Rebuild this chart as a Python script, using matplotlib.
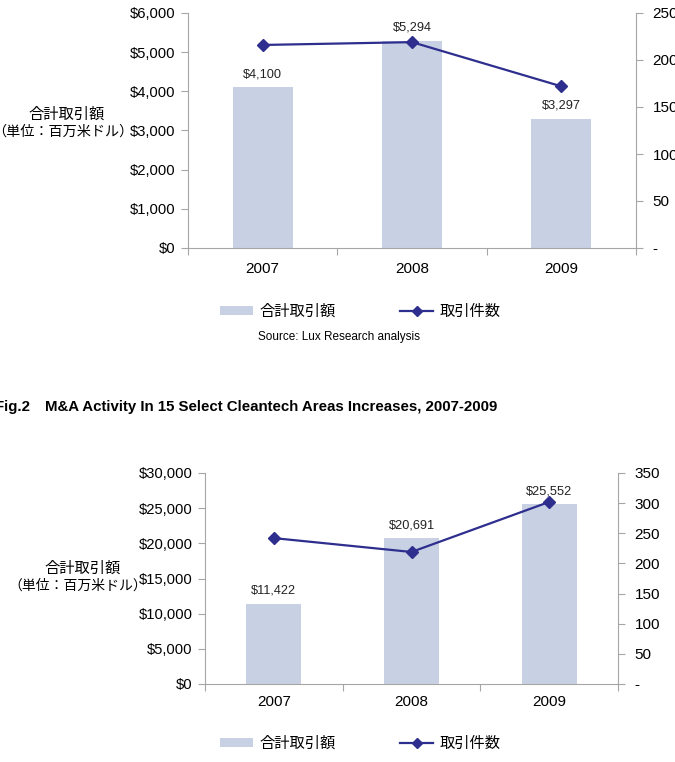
import matplotlib
matplotlib.use("Agg")
import matplotlib.pyplot as plt
from matplotlib.ticker import FuncFormatter, FixedLocator
from matplotlib.patches import Patch
from matplotlib.lines import Line2D

plt.rcParams['font.family'] = ['Liberation Sans', 'Noto Sans CJK JP', 'DejaVu Sans']

# Datos
anios = ["2007", "2008", "2009"]
monto_vc = [4100, 5294, 3297]          # 合計取引額 (figura superior)
cantidad_vc = [216, 219, 172]          # 取引件数
monto_ma = [11422, 20691, 25552]       # 合計取引額 (Fig.2)
cantidad_ma = [242, 219, 302]          # 取引件数

color_barra = "#c8d1e4"
color_linea = "#2e2e8e"
color_eje = "#a6a6a6"
ancho, alto = 675, 762


def fx(px):
    return px / ancho


def fy(py):
    return 1 - py / alto


def dibujar(fig, caja, montos, cantidades, ymax, ypaso, y2max, y2paso, pad_x):
    izq, der, arr, aba = caja
    ax = fig.add_axes([fx(izq), fy(aba), fx(der - izq), (aba - arr) / alto])
    x = list(range(len(anios)))
    ax.bar(x, montos, width=0.4, color=color_barra, zorder=2)
    for xi, v in zip(x, montos):
        ax.annotate(f"${v:,}", (xi, v), xytext=(0, 5), textcoords="offset points",
                    ha="center", va="bottom", fontsize=9.2, color="#222222")
    ax.set_xlim(-0.5, 2.5)
    ax.set_ylim(0, ymax)
    ax.set_yticks(range(0, ymax + 1, ypaso))
    ax.yaxis.set_major_formatter(FuncFormatter(lambda v, p: f"${int(v):,}"))
    ax.xaxis.set_major_locator(FixedLocator([-0.5, 0.5, 1.5, 2.5]))
    ax.xaxis.set_major_formatter(FuncFormatter(lambda v, p: ""))
    ax.xaxis.set_minor_locator(FixedLocator(x))
    ax.set_xticklabels(anios, minor=True)
    ax.tick_params(axis="x", which="minor", length=0, pad=pad_x, labelsize=11)
    ax.tick_params(axis="x", which="major", length=5, color=color_eje, direction="out")
    ax.tick_params(axis="y", length=5, color=color_eje, labelsize=10.6, pad=4)
    for s in ["top", "right"]:
        ax.spines[s].set_visible(False)
    for s in ["left", "bottom"]:
        ax.spines[s].set_color(color_eje)

    ax2 = ax.twinx()
    ax2.plot(x, cantidades, color=color_linea, lw=1.6, marker="D", markersize=6.5, zorder=3)
    ax2.set_ylim(0, y2max)
    ax2.set_yticks(range(0, y2max + 1, y2paso))
    ax2.yaxis.set_major_formatter(FuncFormatter(lambda v, p: "-" if v == 0 else f"{int(v)}"))
    ax2.tick_params(axis="y", length=5, color=color_eje, labelsize=11, pad=7)
    for s in ["top", "left", "bottom"]:
        ax2.spines[s].set_visible(False)
    ax2.spines["right"].set_color(color_eje)
    return ax


fig = plt.figure(figsize=(6.75, 7.62), dpi=100)

dibujar(fig, (188, 636, 13, 248), monto_vc, cantidad_vc, 6000, 1000, 250, 50, 10)
dibujar(fig, (205, 618, 473, 684), monto_ma, cantidad_ma, 30000, 5000, 350, 50, 8)

# Etiquetas del eje Y
fig.text(fx(67), fy(115), "合計取引額", ha="center", va="center", fontsize=11)
fig.text(fx(63), fy(132), "（単位：百万米ドル）", ha="center", va="center", fontsize=10.2)
fig.text(fx(83), fy(569), "合計取引額", ha="center", va="center", fontsize=11)
fig.text(fx(78), fy(586), "（単位：百万米ドル）", ha="center", va="center", fontsize=10)

# Leyendas
manejadores = [Patch(facecolor=color_barra, edgecolor="none"),
               Line2D([], [], color=color_linea, lw=1.6, marker="D", markersize=5)]
nombres = ["合計取引額", "取引件数"]
for cy in (312, 744):
    fig.legend(manejadores, nombres, loc="center", bbox_to_anchor=(fx(360), fy(cy)),
               ncol=2, frameon=False, fontsize=11, columnspacing=4.2, handlelength=2.2,
               handletextpad=0.4, handleheight=0.5)

fig.text(fx(339), fy(337), "Source: Lux Research analysis", ha="center", va="center", fontsize=8.5)

fig.text(fx(497), fy(407), "Fig.2　M&A Activity In 15 Select Cleantech Areas Increases, 2007-2009",
         ha="right", va="center", fontsize=10.8, fontweight="bold")

fig.savefig("out.png", dpi=100)
